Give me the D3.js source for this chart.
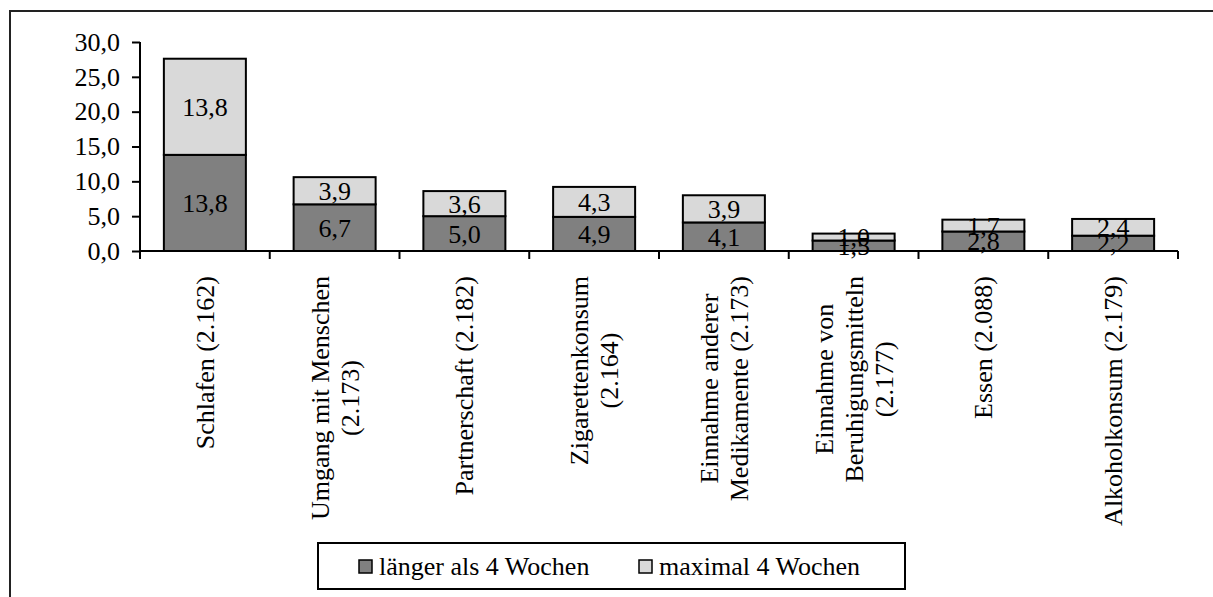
<!DOCTYPE html>
<html>
<head>
<meta charset="utf-8">
<script src="https://cdn.jsdelivr.net/npm/d3@7"></script>
<style>
  html, body { margin: 0; padding: 0; background: #fff; }
  svg { display: block; }
  svg text { font-family: "Liberation Serif", "DejaVu Serif", serif !important; fill: #000; }
</style>
</head>
<body>
<svg id="chart" width="1213" height="597"></svg>
<script>
// ---- data ----
const categories = [
  "Schlafen (2.162)",
  "Umgang mit Menschen (2.173)",
  "Partnerschaft (2.182)",
  "Zigarettenkonsum (2.164)",
  "Einnahme anderer Medikamente (2.173)",
  "Einnahme von Beruhigungsmitteln (2.177)",
  "Essen (2.088)",
  "Alkoholkonsum (2.179)"
];
const categoryLines = [
  ["Schlafen (2.162)"],
  ["Umgang mit Menschen", "(2.173)"],
  ["Partnerschaft (2.182)"],
  ["Zigarettenkonsum", "(2.164)"],
  ["Einnahme anderer", "Medikamente (2.173)"],
  ["Einnahme von", "Beruhigungsmitteln", "(2.177)"],
  ["Essen (2.088)"],
  ["Alkoholkonsum (2.179)"]
];
const laenger = [13.8, 6.7, 5.0, 4.9, 4.1, 1.5, 2.8, 2.2];
const maximal = [13.8, 3.9, 3.6, 4.3, 3.9, 1.0, 1.7, 2.4];
const seriesNames = ["länger als 4 Wochen", "maximal 4 Wochen"];
const yTicks = [0, 5, 10, 15, 20, 25, 30];

// ---- layout ----
const svg = d3.select("#chart");
const FONT = 26;
const SERIF = "'Liberation Serif', 'DejaVu Serif', serif";
const colors = ["#808080", "#d9d9d9"];
const fmt = v => d3.format(".1f")(v).replace(".", ",");

// outer frame (top + left)
svg.append("path")
  .attr("d", "M10,597 L10,11 L1213,11")
  .attr("fill", "none").attr("stroke", "#222").attr("stroke-width", 2);

const x = d3.scaleBand().domain(categories).range([140, 1178])
  .paddingInner(0.368).paddingOuter(0.184);
const y = d3.scaleLinear().domain([0, 30]).range([251, 42]);

// stacked data
const stackData = categories.map((c, i) => ({ cat: c, s0: laenger[i], s1: maximal[i] }));
const stacked = d3.stack().keys(["s0", "s1"])(stackData);

const gBars = svg.append("g");
stacked.forEach((layer, li) => {
  gBars.selectAll(null).data(layer).enter().append("rect")
    .attr("x", d => x(d.data.cat))
    .attr("width", x.bandwidth())
    .attr("y", d => y(d[1]))
    .attr("height", d => y(d[0]) - y(d[1]))
    .attr("fill", colors[li])
    .attr("stroke", "#000")
    .attr("stroke-width", 2);
});

// value labels
stacked.forEach((layer, li) => {
  gBars.selectAll(null).data(layer).enter().append("text")
    .attr("x", d => x(d.data.cat) + x.bandwidth() / 2)
    .attr("y", d => (y(d[0]) + y(d[1])) / 2)
    .attr("dy", "0.35em")
    .attr("text-anchor", "middle")
    .attr("font-family", SERIF)
    .attr("font-size", FONT)
    .text(d => fmt(d[1] - d[0]));
});

// y axis
const yAxis = d3.axisLeft(y).tickValues(yTicks).tickSize(8).tickPadding(12).tickFormat(fmt);
const gy = svg.append("g").attr("transform", "translate(140,0)").call(yAxis)
  .attr("font-family", SERIF);
gy.select(".domain").attr("stroke", "#000").attr("stroke-width", 2)
  .attr("d", `M0,${y(30)}V${y(0)}`);
gy.selectAll(".tick line").attr("stroke", "#000").attr("stroke-width", 2);
gy.selectAll(".tick text").attr("font-size", FONT)
  .attr("font-family", SERIF).attr("fill", "#000");

// x axis line and tick marks between categories
const gx = svg.append("g");
gx.append("line").attr("x1", 140).attr("x2", 1178).attr("y1", y(0)).attr("y2", y(0))
  .attr("stroke", "#000").attr("stroke-width", 2);
const boundaries = categories.map(c => x(c) - x.step() * x.paddingInner() / 2);
boundaries.push(1178);
gx.selectAll(null).data(boundaries).enter().append("line")
  .attr("x1", d => d).attr("x2", d => d)
  .attr("y1", y(0)).attr("y2", y(0) + 8)
  .attr("stroke", "#000").attr("stroke-width", 2);

// category labels (rotated, multi-line, centered lines)
const LINE_H = 30;
categories.forEach((c, i) => {
  const lines = categoryLines[i];
  const cx = x(c) + x.bandwidth() / 2;
  const g = gx.append("g");
  const texts = lines.map((ln, k) => g.append("text")
    .attr("font-family", SERIF)
    .attr("font-size", FONT)
    .attr("text-anchor", "middle")
    .attr("x", 0)
    .attr("y", (k - (lines.length - 1) / 2) * LINE_H)
    .attr("dy", "0.35em")
    .text(ln));
  const maxW = d3.max(texts, t => t.node().getComputedTextLength());
  const cy = 276 + maxW / 2;
  g.attr("transform", `translate(${cx},${cy}) rotate(-90)`);
});

// legend
const lg = svg.append("g");
lg.append("rect").attr("x", 318).attr("y", 543).attr("width", 587).attr("height", 46)
  .attr("fill", "#fff").attr("stroke", "#000").attr("stroke-width", 2);
const legendX = [359, 639];
seriesNames.forEach((name, i) => {
  lg.append("rect").attr("x", legendX[i]).attr("y", 560).attr("width", 13).attr("height", 13)
    .attr("fill", colors[i]).attr("stroke", "#000").attr("stroke-width", 1.5);
  lg.append("text").attr("x", legendX[i] + 20).attr("y", 575)
    .attr("font-family", SERIF)
    .attr("font-size", FONT).text(name);
});
</script>
</body>
</html>
